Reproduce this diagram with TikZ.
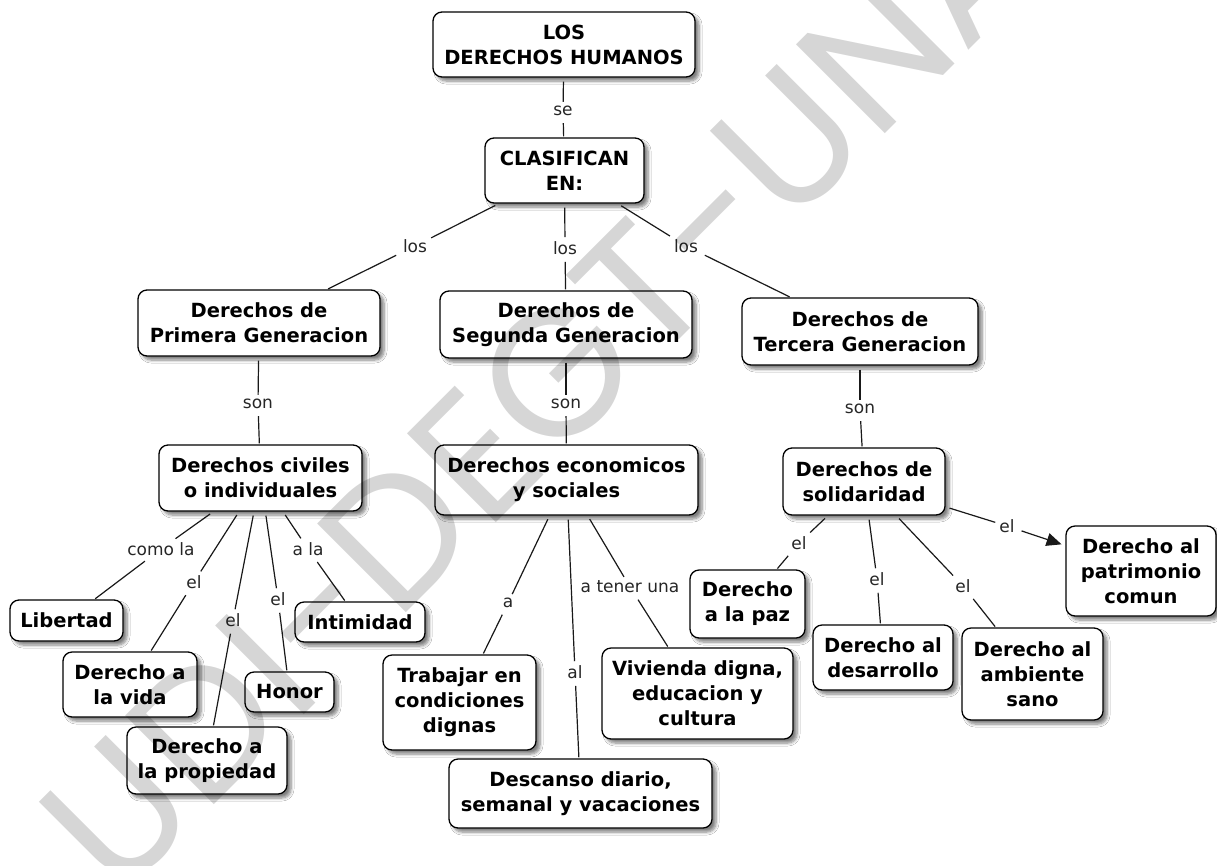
\documentclass[tikz,border=0pt]{standalone}
\usepackage{fontspec}
\setmainfont{DejaVu Sans}
\newfontfamily\wmfont{Poppins}
\usetikzlibrary{arrows.meta,shadows.blur}

\tikzset{
  concept/.style={draw=black, line width=1.3pt, rounded corners=9pt, fill=white,
    align=center, inner sep=0pt,
    font=\bfseries\fontsize{19.5}{25}\selectfont,
    blur shadow={shadow xshift=4pt, shadow yshift=-4pt, shadow blur steps=6,
      shadow blur radius=3pt, shadow opacity=50}},
  linkword/.style={inner sep=3pt, font=\fontsize{17}{19}\selectfont, text=black!85},
  conn/.style={line width=1.2pt, draw=black!90, shorten <=4pt, shorten >=1pt},
  tip/.style={-{Triangle[length=15pt,width=13pt]}, shorten >=4pt},
}

\begin{document}
\begin{tikzpicture}[x=1pt,y=-1pt]
\useasboundingbox (0,0) rectangle (1217,865);
\fill[white] (0,0) rectangle (1217,865);
\clip (0,0) rectangle (1217,865);

% concepts
\node[concept, minimum width=262pt, minimum height=65pt] (dh)   at (564,44.5)  {LOS\\DERECHOS HUMANOS};
\node[concept, minimum width=159pt, minimum height=65pt] (clas) at (564.5,170.5) {CLASIFICAN\\EN:};
\node[concept, minimum width=242pt, minimum height=66pt] (prim) at (259,323)   {Derechos de\\Primera Generacion};
\node[concept, minimum width=252pt, minimum height=67pt] (seg)  at (566,324.5) {Derechos de\\Segunda Generacion};
\node[concept, minimum width=236pt, minimum height=67pt] (ter)  at (860,331.5) {Derechos de\\Tercera Generacion};
\node[concept, minimum width=203pt, minimum height=66pt] (civ)  at (260.5,478) {Derechos civiles\\o individuales};
\node[concept, minimum width=263pt, minimum height=70pt] (eco)  at (566.5,480) {Derechos economicos\\y sociales};
\node[concept, minimum width=162pt, minimum height=67pt] (sol)  at (864,481.5) {Derechos de\\solidaridad};
\node[concept, minimum width=113pt, minimum height=41pt] (lib)  at (66.5,620.5) {Libertad};
\node[concept, minimum width=134pt, minimum height=65pt] (vida) at (130,684.5) {Derecho a\\la vida};
\node[concept, minimum width=160pt, minimum height=67pt] (prop) at (207,760.5) {Derecho a\\la propiedad};
\node[concept, minimum width=89pt,  minimum height=40pt] (hon)  at (289.5,692) {Honor};
\node[concept, minimum width=130pt, minimum height=40pt] (intim) at (360,622)  {Intimidad};
\node[concept, minimum width=153pt, minimum height=95pt] (trab) at (459.5,702.5) {Trabajar en\\condiciones\\dignas};
\node[concept, minimum width=263pt, minimum height=69pt] (desc) at (580.5,793.5) {Descanso diario,\\semanal y vacaciones};
\node[concept, minimum width=191pt, minimum height=91pt] (viv)  at (697.5,693.5) {Vivienda digna,\\educacion y\\cultura};
\node[concept, minimum width=115pt, minimum height=68pt] (paz)  at (747.5,604)  {Derecho\\a la paz};
\node[concept, minimum width=140pt, minimum height=65pt] (desa) at (883,657.5)  {Derecho al\\desarrollo};
\node[concept, minimum width=141pt, minimum height=92pt] (amb)  at (1032.5,674) {Derecho al\\ambiente\\sano};
\node[concept, minimum width=150pt, minimum height=90pt] (pat)  at (1141,571)   {Derecho al\\patrimonio\\comun};

% linking words
\node[linkword] (lse)   at (563,111)  {se};
\node[linkword] (llos1) at (415,246)  {los};
\node[linkword] (llos2) at (565,248)  {los};
\node[linkword] (llos3) at (686,246)  {los};
\node[linkword] (lson1) at (258,404)  {son};
\node[linkword] (lson2) at (566,404)  {son};
\node[linkword] (lson3) at (860,409)  {son};
\node[linkword] (lcomo) at (161,549)  {como la};
\node[linkword] (lel1)  at (194,582)  {el};
\node[linkword] (lel2)  at (233,620)  {el};
\node[linkword] (lel3)  at (278,599)  {el};
\node[linkword] (lala)  at (308,549)  {a la};
\node[linkword] (la)    at (508,603)  {a};
\node[linkword] (lal)   at (575,672)  {al};
\node[linkword] (lten)  at (630,587)  {a tener una};
\node[linkword] (lel4)  at (799,543)  {el};
\node[linkword] (lel5)  at (877,579)  {el};
\node[linkword] (lel6)  at (963,586)  {el};
\node[linkword] (lel7)  at (1007,526) {el};

% connectors
\draw[conn] (dh) -- (lse);     \draw[conn] (lse) -- (clas);
\draw[conn] (clas) -- (llos1); \draw[conn] (llos1) -- (prim);
\draw[conn] (clas) -- (llos2); \draw[conn] (llos2) -- (seg);
\draw[conn] (clas) -- (llos3); \draw[conn] (llos3) -- (ter);
\draw[conn] (prim) -- (lson1); \draw[conn] (lson1) -- (civ);
\draw[conn] (seg) -- (lson2);  \draw[conn] (lson2) -- (eco);
\draw[conn] (ter) -- (lson3);  \draw[conn] (lson3) -- (sol);
\draw[conn] (civ) -- (lcomo);  \draw[conn] (lcomo) -- (lib);
\draw[conn] (civ) -- (lel1);   \draw[conn] (lel1) -- (vida);
\draw[conn] (civ) -- (lel2);   \draw[conn] (lel2) -- (prop);
\draw[conn] (civ) -- (lel3);   \draw[conn] (lel3) -- (hon);
\draw[conn] (civ) -- (lala);   \draw[conn] (lala) -- (intim);
\draw[conn] (eco) -- (la);     \draw[conn] (la) -- (trab);
\draw[conn] (eco) -- (lal);    \draw[conn] (lal) -- (desc);
\draw[conn] (eco) -- (lten);   \draw[conn] (lten) -- (viv);
\draw[conn] (sol) -- (lel4);   \draw[conn] (lel4) -- (paz);
\draw[conn] (sol) -- (lel5);   \draw[conn] (lel5) -- (desa);
\draw[conn] (sol) -- (lel6);   \draw[conn] (lel6) -- (amb);
\draw[conn] (sol) -- (lel7);   \draw[conn, tip] (lel7) -- (pat);

% watermark
\node[rotate=45, inner sep=0pt, text=black, text opacity=0.16,
      font=\wmfont\fontsize{180}{180}\selectfont] (wm) at (585,345) {UDI-DEGT-UNAN};
\end{tikzpicture}
\end{document}
